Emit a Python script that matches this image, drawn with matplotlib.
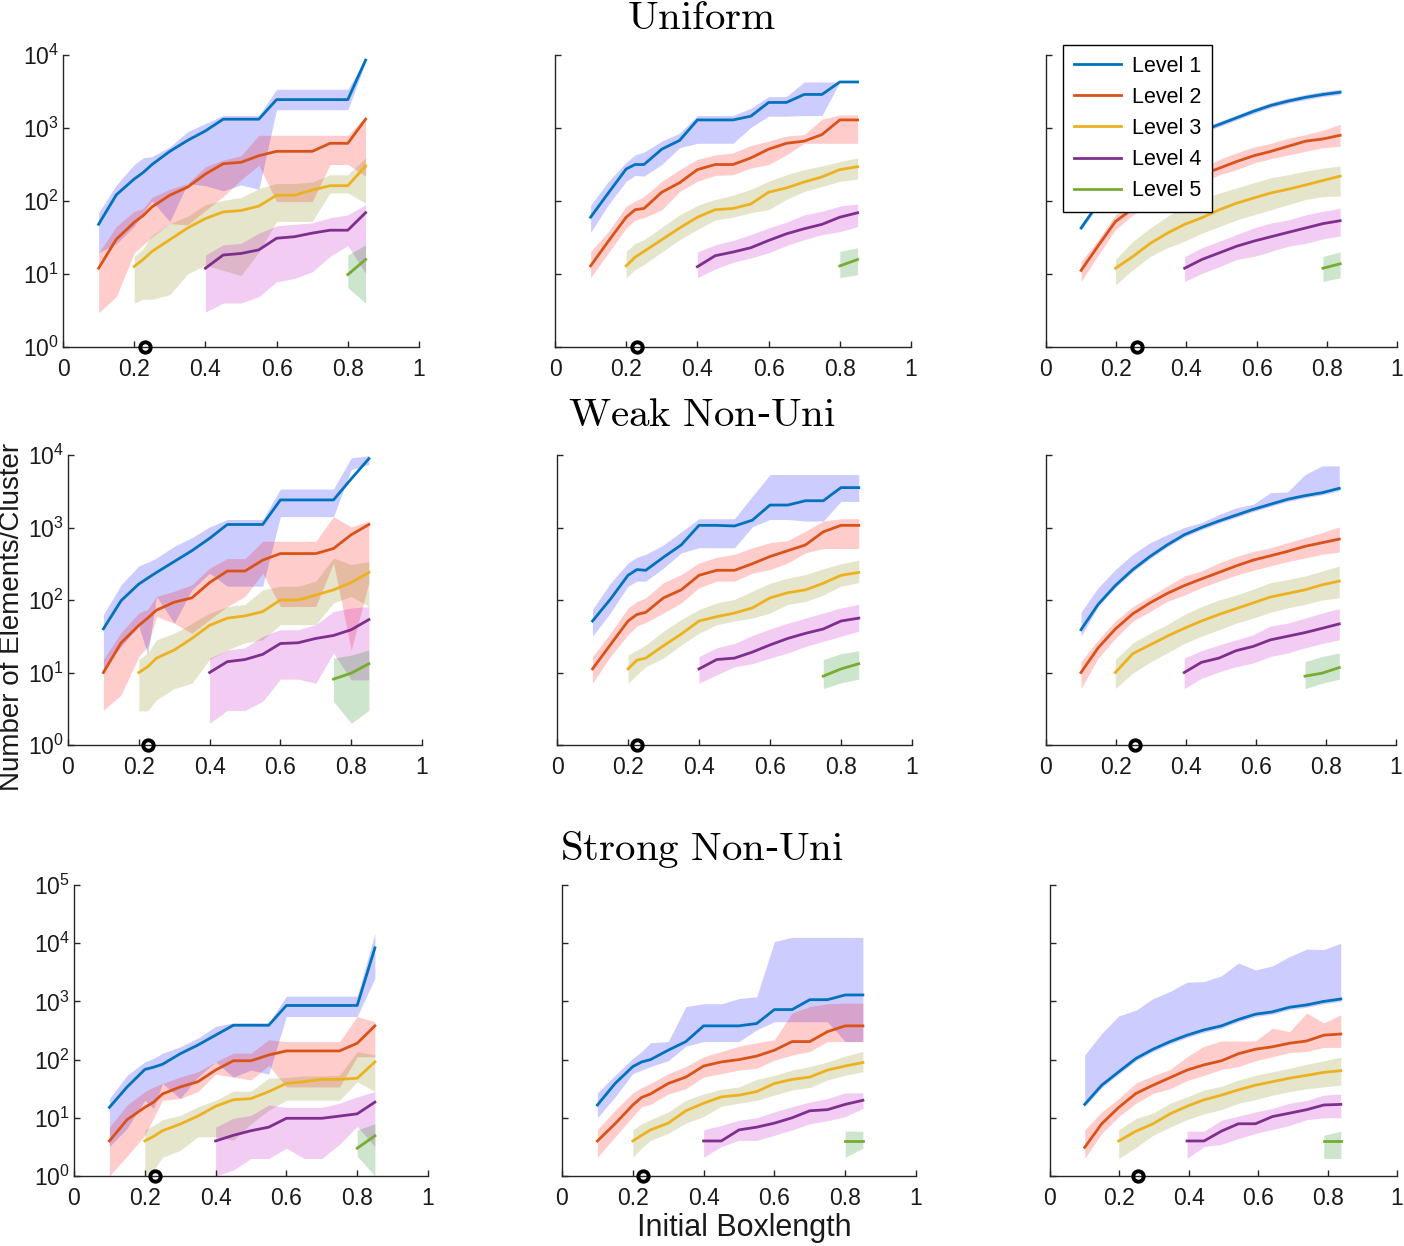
import matplotlib
matplotlib.use("Agg")
from matplotlib import pyplot as plt
import numpy as np

plt.rcParams['font.family'] = ['Liberation Sans', 'DejaVu Sans']
plt.rcParams['mathtext.default'] = 'regular'

# x grids (boxlength)
x_grid = [0.1, 0.15, 0.2, 0.225, 0.25, 0.3, 0.35, 0.4, 0.45, 0.5, 0.55, 0.6, 0.65, 0.7, 0.75, 0.8, 0.85]
x_grid_c3 = [0.1, 0.149, 0.198, 0.248, 0.297, 0.346, 0.395, 0.444, 0.494, 0.543, 0.592, 0.641, 0.69, 0.74, 0.789, 0.838]

levels = ['Level 1', 'Level 2', 'Level 3', 'Level 4', 'Level 5']
row_titles = ['Uniform', 'Weak Non-Uni', 'Strong Non-Uni']
circle_x = [[0.23, 0.23, 0.258], [0.226, 0.225, 0.254], [0.229, 0.229, 0.255]]

# ---------------- Uniform ----------------
uni_c1_med = [[48, 122, 200, 245, 316, 479, 676, 912, 1320, 1320, 1320, 2450, 2450, 2450, 2450, 2450, 8510],
              [12, 30, 51, 63, 83, 120, 155, 234, 324, 339, 417, 479, 479, 479, 617, 617, 1320],
              [12.7, 15.8, 20.4, 29.5, 42.7, 57.5, 70.8, 74.1, 85.1, 120, 120, 141, 162, 162, 302],
              [12, 18.2, 19.1, 21.4, 30.9, 32.4, 36.3, 39.8, 39.8, 69.2],
              [9.8, 15.8]]
uni_c1_hi = [[69, 166, 316, 389, 407, 550, 891, 1150, 1480, 1480, 1480, 3390, 3390, 3390, 3390, 3390, 8910],
             [19.5, 45, 72, 79, 112, 145, 174, 295, 363, 417, 794, 794, 794, 794, 794, 794, 1450],
             [17.4, 22.4, 33.9, 49, 61.7, 89.1, 102, 112, 148, 174, 174, 182, 229, 229, 389],
             [18.2, 25.1, 26.3, 36.3, 45.7, 47.9, 50.1, 58.9, 64.6, 89.1],
             [18.2, 25.1]]
uni_c1_lo = [[19.5, 26, 45, 69, 100, 52, 174, 162, 138, 166, 145, 1780, 1780, 1780, 1780, 1780, 7940],
             [2.95, 4.9, 19.5, 25, 32, 49, 47, 74, 115, 195, 309, 98, 98, 98, 316, 316, 219],
             [4.0, 4.5, 4.5, 5.2, 10, 13.2, 11.2, 9.5, 20, 52.5, 52.5, 52.5, 129, 129, 93.3],
             [3.0, 4.0, 4.0, 4.9, 7.8, 8.7, 10.7, 17.4, 24.5, 10.2],
             [6.5, 4.0]]

uni_c2_med = [[60, 129, 275, 316, 316, 513, 676, 1290, 1290, 1290, 1450, 2240, 2240, 2880, 2880, 4270, 4270],
              [12.9, 28.2, 60, 76, 79, 132, 178, 269, 316, 316, 389, 513, 617, 661, 813, 1290, 1290],
              [12.9, 17, 20.4, 29.5, 42.7, 60, 76, 79, 91, 132, 151, 182, 214, 269, 295],
              [12.6, 17.8, 20, 22.9, 28.8, 35.5, 41.7, 47.9, 60, 69],
              [12.9, 15.8]]
uni_c2_hi = [[87, 186, 339, 427, 468, 661, 851, 1480, 1480, 1480, 1860, 2690, 2690, 4270, 4270, 4270, 4270],
             [20.4, 38, 85, 100, 115, 186, 269, 372, 427, 457, 575, 661, 776, 813, 1320, 1510, 1510],
             [20.4, 26.3, 29.5, 43.7, 64.6, 87.1, 105, 120, 145, 186, 229, 269, 302, 347, 389],
             [20, 25.1, 28.8, 34.7, 42.7, 51.3, 64.6, 72.4, 85.1, 91.2],
             [20.4, 22.9]]
uni_c2_lo = [[37, 89, 186, 224, 219, 316, 537, 617, 617, 617, 1020, 1450, 1450, 1480, 1480, 4270, 4270],
             [8.9, 19.5, 42.7, 55, 58.9, 75.9, 135, 186, 224, 229, 282, 316, 427, 617, 617, 617, 617],
             [8.9, 11.5, 13.5, 20, 29.5, 40.7, 55, 60, 69, 76, 105, 135, 158, 186, 200],
             [8.9, 11.7, 14.5, 16.6, 19.5, 24.5, 29.5, 34.7, 38, 44.7],
             [8.9, 9.8]]

uni_c3_med = [[42.7, 93, 174, 288, 417, 562, 724, 912, 1120, 1380, 1700, 2040, 2340, 2630, 2880, 3090],
              [11.2, 24.5, 52.5, 79, 115, 151, 186, 229, 282, 347, 417, 479, 562, 661, 708, 794],
              [12, 17.4, 26.3, 36.3, 47.9, 58.9, 75.9, 93.3, 110, 129, 145, 166, 191, 219],
              [12, 15.8, 19.5, 24, 28.2, 32.4, 37.2, 42.7, 49, 53.7],
              [12, 13.8]]
uni_c3_hi = [[46.8, 102, 191, 316, 457, 617, 794, 1000, 1230, 1510, 1860, 2240, 2570, 2880, 3160, 3390],
             [14.8, 29.5, 64.6, 100, 141, 186, 229, 282, 372, 457, 550, 617, 724, 813, 933, 1120],
             [15.8, 28.2, 42.7, 61.7, 85.1, 105, 129, 151, 178, 209, 229, 257, 282, 302],
             [17.4, 22.9, 28.2, 34.7, 42.7, 50.1, 55, 64.6, 72.4, 79.4],
             [17.4, 20]]
uni_c3_lo = [[39.8, 87, 162, 269, 389, 525, 676, 851, 1050, 1290, 1580, 1910, 2190, 2450, 2690, 2880],
             [7.9, 18.2, 40.7, 64.6, 89, 123, 145, 178, 229, 269, 331, 380, 427, 479, 537, 562],
             [7.1, 11.5, 17.4, 22.9, 28.2, 36.3, 44.7, 55, 64.6, 75.9, 89.1, 105, 115, 117],
             [7.9, 10.2, 12.6, 15.8, 17.4, 20.4, 24, 26.3, 30.2, 33.1],
             [7.9, 8.9]]

# ---------------- Weak Non-Uni ----------------
weak_c1_med = [[40, 98, 166, 200, 240, 339, 479, 708, 1100, 1100, 1100, 2400, 2400, 2400, 2400, 4680, 8910],
               [10, 25.7, 44.7, 56.2, 72.4, 93.3, 107, 174, 251, 251, 355, 437, 437, 437, 513, 794, 1100],
               [10, 12, 15.8, 20.4, 29.5, 44.7, 56.2, 60.3, 69.2, 100, 100, 117, 138, 174, 240],
               [10, 14.1, 15.1, 17.8, 25.1, 25.7, 29.5, 32.4, 38.9, 53.7],
               [8.1, 9.8, 13.2]]
weak_c1_hi = [[63, 162, 295, 331, 380, 550, 724, 1020, 1290, 1290, 1290, 3390, 3390, 3390, 3390, 9120, 9770],
              [15.1, 35.5, 66.1, 74.1, 112, 132, 162, 275, 372, 372, 646, 646, 646, 646, 1410, 1020, 1230],
              [15.1, 18.6, 28.2, 34.7, 47.9, 66.1, 81.3, 87.1, 138, 155, 155, 182, 380, 309, 339],
              [15.8, 20.4, 21.9, 31.6, 38.9, 38.9, 45.7, 69.2, 77.6, 81.3],
              [15.8, 17.4, 20.4]]
weak_c1_lo = [[11, 22.9, 43.7, 17.8, 112, 47.9, 138, 234, 155, 155, 155, 1410, 1410, 1410, 1410, 6310, 7410],
              [3.0, 4.9, 16.6, 22.9, 58.9, 47.9, 34.7, 53.7, 81.3, 112, 234, 81.3, 81.3, 81.3, 324, 20.4, 174],
              [2.95, 2.95, 4.2, 6.0, 7.1, 15.1, 20.4, 25.7, 28.2, 45.7, 45.7, 45.7, 91.2, 112, 81.3],
              [2.0, 3.0, 3.0, 4.0, 8.1, 8.1, 7.1, 18.6, 7.9, 7.9],
              [4.0, 2.0, 3.0]]

weak_c2_med = [[51.3, 102, 219, 263, 257, 389, 575, 1070, 1070, 1050, 1260, 2040, 2040, 2340, 2340, 3550, 3550],
               [11.2, 24, 51.3, 63.1, 67.6, 107, 138, 219, 257, 257, 316, 398, 479, 575, 871, 1070, 1070],
               [11.2, 14.8, 15.8, 23.4, 33.9, 51.3, 58.9, 66.1, 77.6, 107, 126, 138, 170, 219, 240],
               [11.2, 15.1, 15.8, 19.1, 24, 29.5, 34.7, 39.8, 51.3, 56.2],
               [8.9, 11.2, 13.2]]
weak_c2_hi = [[74.1, 170, 324, 389, 427, 575, 871, 1320, 1320, 1320, 2690, 5370, 5370, 5370, 5370, 5370, 5370],
              [16.6, 34.7, 77.6, 95.5, 107, 174, 224, 324, 389, 427, 525, 617, 661, 891, 1230, 1320, 1320],
              [17.4, 20.4, 24, 37.2, 53.7, 74.1, 91.2, 102, 132, 170, 200, 224, 269, 316, 355],
              [16.6, 21.9, 25.1, 32.4, 39.8, 47.9, 56.2, 66.1, 77.6, 87.1],
              [15.1, 18.2, 20]]
weak_c2_lo = [[31.6, 66.1, 155, 182, 182, 275, 447, 525, 525, 525, 1020, 1290, 1290, 1230, 1230, 2290, 2290],
              [7.1, 16.6, 33.1, 43.7, 49, 66.1, 91.2, 148, 182, 182, 234, 263, 324, 447, 513, 513, 513],
              [7.1, 9.3, 12, 15.8, 24, 34.7, 45.7, 51.3, 56.2, 66.1, 87.1, 95.5, 117, 155, 174],
              [7.1, 9.3, 12, 13.2, 15.8, 18.6, 22.9, 26.9, 31.6, 37.2],
              [6.0, 7.2, 8.1]]

weak_c3_med = [[38.9, 87.1, 158, 263, 398, 575, 794, 1000, 1230, 1480, 1780, 2090, 2450, 2750, 3020, 3470],
               [10, 21.9, 39.8, 64.6, 91.2, 123, 158, 195, 240, 295, 355, 407, 468, 550, 617, 692],
               [10, 18.2, 24, 31.6, 40.7, 51.3, 63.1, 75.9, 91.2, 110, 123, 138, 162, 182],
               [10, 13.8, 15.8, 20, 22.9, 28.2, 31.6, 35.5, 40.7, 46.8],
               [8.9, 9.8, 11.7]]
weak_c3_hi = [[67.6, 148, 263, 427, 617, 794, 1000, 1170, 1510, 1860, 2090, 3020, 3090, 5370, 7080, 7080],
              [14.1, 28.2, 51.3, 81.3, 112, 155, 214, 251, 324, 398, 468, 525, 617, 724, 851, 1020],
              [15.1, 25.7, 34.7, 45.7, 63.1, 81.3, 100, 117, 141, 174, 191, 214, 251, 295],
              [15.8, 20, 24, 28.2, 33.1, 43.7, 47.9, 56.2, 66.1, 75.9],
              [14.1, 16.6, 18.6]]
weak_c3_lo = [[31.6, 81.3, 148, 245, 372, 537, 741, 933, 1150, 1380, 1660, 1950, 2290, 2570, 2820, 3240],
              [6.0, 15.8, 29.5, 51.3, 69.2, 95.5, 117, 148, 182, 219, 257, 295, 339, 380, 427, 457],
              [6.0, 9.8, 13.8, 18.6, 25.1, 31.6, 38.9, 47.9, 56.2, 67.6, 77.6, 87.1, 100, 107],
              [6.0, 8.3, 10.2, 12, 13.5, 16.6, 18.6, 21.9, 25.1, 28.2],
              [6.0, 7.1, 8.1]]

# ---------------- Strong Non-Uni ----------------
strong_c1_med = [[15.1, 33.9, 67.6, 74.1, 83.2, 126, 178, 263, 389, 389, 389, 851, 851, 851, 851, 851, 8320],
                 [4.0, 9.3, 15.1, 18.6, 25.7, 33.9, 41.7, 66.1, 95.5, 95.5, 120, 141, 141, 141, 141, 191, 380],
                 [4.0, 4.8, 6.0, 7.8, 10.7, 15.8, 20.4, 21.4, 28.2, 38.9, 41.7, 45.7, 45.7, 47.9, 91.2],
                 [4.0, 5.0, 6.0, 6.9, 9.8, 9.8, 9.8, 10.7, 11.7, 18.6],
                 [3.0, 4.9]]
strong_c1_hi = [[21.4, 53.7, 91.2, 105, 129, 166, 234, 372, 427, 427, 427, 1230, 1230, 1230, 1230, 1230, 14800],
                [6.9, 16.6, 28.2, 33.9, 38.9, 50.1, 61.7, 91.2, 129, 129, 219, 204, 204, 204, 204, 550, 447],
                [6.2, 7.4, 9.3, 11, 15.5, 20, 28.8, 28.8, 47.9, 49, 52.5, 52.5, 53.7, 138, 120],
                [6.9, 9.8, 11, 16.6, 15.1, 15.1, 15.1, 17.8, 22.9, 28.2],
                [6.2, 7.9]]
strong_c1_lo = [[3.2, 6.6, 20, 14.5, 38.9, 21.4, 50.1, 91.2, 50.1, 66.1, 56.2, 550, 550, 550, 550, 550, 2510],
                [1.0, 2.2, 5.0, 10, 20, 21.4, 28.2, 56.2, 50.1, 44.7, 79.4, 33.9, 33.9, 33.9, 33.9, 112, 112],
                [1.0, 1.26, 2.1, 2.75, 4.7, 4.7, 4.1, 7.9, 13.5, 20, 20, 20, 20, 41.7, 28.2],
                [1.0, 1.26, 2.0, 2.0, 3.0, 2.0, 2.0, 3.5, 7.1, 3.2],
                [2.2, 1.0]]

strong_c2_med = [[16.6, 38.9, 75.9, 91.2, 100, 145, 204, 380, 380, 380, 417, 724, 724, 1070, 1070, 1290, 1290],
                 [4.0, 7.9, 16.6, 22.4, 25.7, 38.9, 50.1, 77.6, 91.2, 100, 115, 145, 204, 204, 302, 380, 380],
                 [4.0, 5.0, 6.2, 8.1, 13.2, 17.8, 22.9, 24.5, 28.2, 38.9, 45.7, 50.1, 66.1, 77.6, 89.1],
                 [4.0, 4.0, 6.2, 6.9, 8.1, 10, 13.2, 13.8, 17, 20],
                 [4.0, 4.0]]
strong_c2_hi = [[26.9, 53.7, 105, 138, 195, 204, 813, 912, 912, 1120, 1200, 10700, 12600, 12600, 12600, 12600, 12600],
                [6.3, 13.5, 26.9, 33.1, 38.9, 57.5, 75.9, 112, 138, 170, 195, 219, 631, 813, 912, 933, 933],
                [6.2, 7.9, 9.3, 12.6, 20, 25.7, 30.9, 33.9, 45.7, 53.7, 66.1, 75.9, 91.2, 115, 138],
                [6.2, 7.4, 9.1, 10, 12.6, 15.5, 18.6, 21.4, 26.9, 26.9],
                [5.9, 5.9]]
strong_c2_lo = [[10, 22.9, 57.5, 66.1, 75.9, 95.5, 170, 204, 204, 204, 324, 447, 447, 447, 447, 204, 204],
                [2.1, 4.7, 10.5, 15.5, 17, 25.7, 31.6, 50.1, 57.5, 66.1, 70.8, 97.7, 120, 138, 204, 204, 204],
                [2.1, 3.0, 4.1, 5.4, 8.1, 10.5, 15.8, 17.8, 20, 24.5, 30.2, 33.1, 44.7, 53.7, 61.7],
                [2.1, 3.2, 4.1, 4.1, 5.0, 6.2, 7.9, 8.9, 10.5, 14.5],
                [2.1, 3.0]]

strong_c3_med = [[17, 36.3, 61.7, 105, 151, 204, 263, 324, 380, 490, 603, 661, 794, 871, 1000, 1100],
                 [3.1, 7.9, 15.1, 26.3, 36.3, 49, 66.1, 81.3, 95.5, 126, 151, 166, 191, 209, 263, 275],
                 [4.0, 5.9, 7.9, 11.7, 15.8, 20.4, 24.5, 30.2, 36.3, 41.7, 47.9, 53.7, 60.3, 64.6],
                 [4.0, 4.0, 5.9, 7.9, 7.9, 10.5, 12, 13.8, 16.6, 17],
                 [4.0, 4.0]]
strong_c3_hi = [[120, 282, 562, 708, 1120, 1480, 2140, 2190, 2750, 4570, 3470, 4070, 5890, 7940, 7760, 10000],
                [6.2, 12.6, 21.4, 39.8, 52.5, 67.6, 112, 170, 209, 209, 209, 347, 302, 631, 427, 589],
                [6.2, 9.8, 12, 17.8, 22.9, 30.2, 34.7, 44.7, 53.7, 61.7, 70.8, 83.2, 95.5, 110],
                [5.9, 5.9, 9.1, 10.7, 12.6, 14.5, 17.8, 20, 24.5, 25.7],
                [5.0, 5.9]]
strong_c3_lo = [[15.5, 33.1, 56.2, 95.5, 138, 186, 240, 295, 347, 447, 550, 603, 724, 794, 912, 1000],
                [2.0, 5.4, 10.5, 17.8, 26.3, 31.6, 43.7, 53.7, 67.6, 75.9, 95.5, 112, 132, 138, 162, 162],
                [2.0, 3.1, 5.0, 6.9, 9.3, 11.7, 13.8, 17.8, 20.4, 24.5, 28.2, 31.6, 33.9, 36.3],
                [2.0, 3.2, 3.5, 4.4, 5.4, 6.3, 7.4, 9.3, 10, 10],
                [2.0, 2.0]]

panels = [[(uni_c1_med, uni_c1_lo, uni_c1_hi), (uni_c2_med, uni_c2_lo, uni_c2_hi), (uni_c3_med, uni_c3_lo, uni_c3_hi)],
          [(weak_c1_med, weak_c1_lo, weak_c1_hi), (weak_c2_med, weak_c2_lo, weak_c2_hi), (weak_c3_med, weak_c3_lo, weak_c3_hi)],
          [(strong_c1_med, strong_c1_lo, strong_c1_hi), (strong_c2_med, strong_c2_lo, strong_c2_hi), (strong_c3_med, strong_c3_lo, strong_c3_hi)]]

# Colors (MATLAB default lines, shaded bands)
line_colors = ['#0072BD', '#D95319', '#EDB120', '#7E2F8E', '#77AC30']
band_colors = ['#0000FF', '#FF0000', '#808000', '#C000C0', '#008000']

# axes boxes in pixels: (left, right, top, bottom)
W, H = 1404, 1246
boxes = [[(63, 419, 55, 347), (555, 911, 55, 347), (1046, 1397, 55, 347)],
         [(68, 422, 455, 745), (557, 912, 455, 745), (1046, 1396, 455, 745)],
         [(74, 428, 885, 1176), (562, 916, 885, 1176), (1050, 1397, 885, 1176)]]

fig = plt.figure(figsize=(W / 100, H / 100), dpi=100)
ink = '#262626'

for r in range(3):
    top_exp = 5 if r == 2 else 4
    for c in range(3):
        L, R, T, B = boxes[r][c]
        ax = fig.add_axes([L / W, 1 - B / H, (R - L) / W, (B - T) / H])
        med, lo, hi = panels[r][c]
        xs_all = x_grid_c3 if c == 2 else x_grid
        for k in range(5):
            n = len(med[k])
            xs = xs_all[-n:]
            ax.fill_between(xs, lo[k], hi[k], color=band_colors[k], alpha=0.2, linewidth=0)
        lines = []
        for k in range(5):
            n = len(med[k])
            xs = xs_all[-n:]
            ln, = ax.plot(xs, med[k], color=line_colors[k], linewidth=2.0, label=levels[k])
            lines.append(ln)
        ax.plot([circle_x[r][c]], [1], marker='o', markersize=7.5, markerfacecolor='none',
                markeredgecolor='black', markeredgewidth=2.8, clip_on=False, zorder=10)

        ax.set_yscale('log')
        ax.set_xlim(0, 1)
        ax.set_ylim(1, 10 ** top_exp)
        ax.set_xticks([0, 0.2, 0.4, 0.6, 0.8, 1])
        ax.set_xticklabels(['0', '0.2', '0.4', '0.6', '0.8', '1'])
        yt = [10 ** e for e in range(top_exp + 1)]
        ax.set_yticks(yt)
        ax.yaxis.set_minor_locator(matplotlib.ticker.NullLocator())
        if c == 0:
            ax.set_yticklabels(['$10^{%d}$' % e for e in range(top_exp + 1)])
        else:
            ax.set_yticklabels([])
        for side in ['top', 'right']:
            ax.spines[side].set_visible(False)
        for side in ['left', 'bottom']:
            ax.spines[side].set_color(ink)
            ax.spines[side].set_linewidth(1.0)
        ax.tick_params(direction='in', length=4, width=1.0, color=ink, labelsize=16.5,
                       labelcolor='#1a1a1a')
        ax.tick_params(axis='x', pad=8)
        ax.tick_params(axis='y', pad=3)
        ax.patch.set_alpha(0)

        if r == 0 and c == 2:
            leg = ax.legend(handles=lines, loc='upper left',
                            bbox_to_anchor=(1063 / W, 1 - 45 / H), bbox_transform=fig.transFigure,
                            borderaxespad=0, fontsize=15.5, handlelength=2.2, handletextpad=0.5,
                            labelspacing=0.47, borderpad=0.5, fancybox=False, framealpha=1,
                            edgecolor='black')
            leg.get_frame().set_linewidth(1.0)
            leg.set_zorder(20)

# Row titles (LaTeX style serif)
title_y = [18, 415, 850]
for r in range(3):
    parts = row_titles[r].split('-')
    if len(parts) == 2:
        txt = '$\\mathrm{' + parts[0].replace(' ', '\\ ') + '}$-$\\mathrm{' + parts[1] + '}$'
    else:
        txt = '$\\mathrm{' + parts[0] + '}$'
    fig.text(702 / W, 1 - title_y[r] / H, txt, ha='center', va='center', fontsize=29.5,
             math_fontfamily='cm', family='DejaVu Serif')

fig.text(12 / W, 1 - 617 / H, 'Number of Elements/Cluster', rotation=90, ha='center', va='center',
         fontsize=20, color='#1a1a1a')
fig.text(744 / W, 1 - 1228 / H, 'Initial Boxlength', ha='center', va='center', fontsize=22,
         color='#1a1a1a')

fig.savefig('out.png', dpi=100)
